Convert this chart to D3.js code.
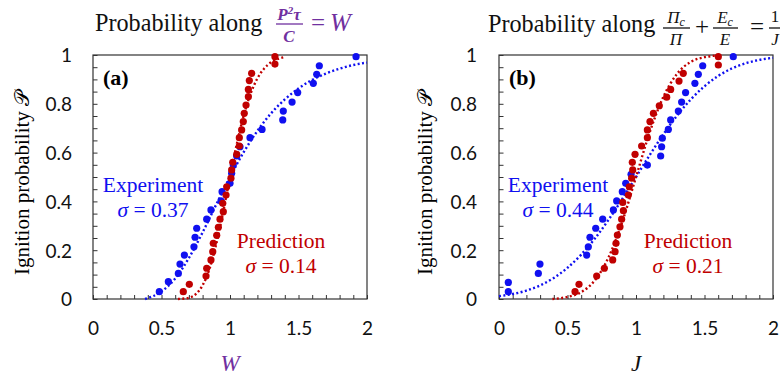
<!DOCTYPE html>
<html>
<head>
<meta charset="utf-8">
<script src="https://cdn.jsdelivr.net/npm/d3@7"></script>
<style>
  body { margin: 0; background: #fff; }
  svg { display: block; }
</style>
</head>
<body>
<svg id="chart" width="780" height="378"></svg>
<script>
// ---- data ----
const xTicks = [0, 0.5, 1, 1.5, 2];
const xTickLabels = ["0", "0.5", "1", "1.5", "2"];
const yTicks = [0, 0.2, 0.4, 0.6, 0.8, 1];
const yTickLabels = ["0", "0.2", "0.4", "0.6", "0.8", "1"];

// panel (a): experiment points
const expA_W = [0.484, 0.55, 0.623, 0.635, 0.667, 0.737, 0.745, 0.757, 0.83, 0.861, 0.934, 0.942, 1.0, 1.012, 1.024, 1.049, 1.073, 1.146, 1.234, 1.385, 1.389, 1.453, 1.494, 1.608, 1.633, 1.652, 1.92];
const expA_P = [0.030, 0.071, 0.105, 0.143, 0.180, 0.214, 0.253, 0.290, 0.327, 0.365, 0.402, 0.440, 0.474, 0.515, 0.549, 0.586, 0.624, 0.661, 0.695, 0.734, 0.770, 0.807, 0.846, 0.884, 0.921, 0.956, 0.993];
// panel (a): prediction points
const predA_W = [0.659, 0.703, 0.825, 0.83, 0.861, 0.874, 0.878, 0.903, 0.915, 0.927, 0.951, 0.947, 0.971, 0.976, 1.007, 1.012, 1.02, 1.049, 1.068, 1.068, 1.085, 1.097, 1.104, 1.117, 1.134, 1.134, 1.141, 1.158, 1.328, 1.328];
const predA_P = [0.030, 0.060, 0.094, 0.126, 0.160, 0.194, 0.228, 0.261, 0.294, 0.327, 0.358, 0.392, 0.426, 0.460, 0.495, 0.529, 0.560, 0.593, 0.627, 0.661, 0.693, 0.727, 0.761, 0.795, 0.829, 0.859, 0.895, 0.925, 0.963, 0.993];
// panel (a): dotted fit curves
const fitExpA_W = [0.38, 0.5, 0.6, 0.7, 0.8, 0.9, 1.0, 1.1, 1.2, 1.3, 1.4, 1.5, 1.6, 1.7, 1.8, 1.9, 2.0];
const fitExpA_P = [0.0, 0.031, 0.084, 0.168, 0.273, 0.388, 0.5, 0.602, 0.689, 0.761, 0.818, 0.863, 0.898, 0.924, 0.944, 0.959, 0.969];
const fitPredA_W = [0.62, 0.7, 0.75, 0.8, 0.85, 0.9, 0.95, 1.0, 1.05, 1.1, 1.15, 1.2, 1.25, 1.3, 1.35, 1.4];
const fitPredA_P = [0.0, 0.005, 0.020, 0.056, 0.123, 0.226, 0.357, 0.5, 0.636, 0.752, 0.841, 0.904, 0.945, 0.970, 0.984, 0.992];

// panel (b): experiment points
const expB_J = [0.068, 0.068, 0.287, 0.299, 0.64, 0.652, 0.664, 0.706, 0.757, 0.835, 0.859, 0.90, 0.925, 0.964, 1.083, 1.18, 1.187, 1.192, 1.236, 1.253, 1.309, 1.333, 1.362, 1.43, 1.455, 1.487, 1.71];
const expB_P = [0.030, 0.068, 0.105, 0.143, 0.180, 0.214, 0.253, 0.290, 0.327, 0.365, 0.402, 0.440, 0.474, 0.511, 0.549, 0.586, 0.624, 0.659, 0.695, 0.734, 0.770, 0.807, 0.846, 0.884, 0.921, 0.956, 0.993];
// panel (b): prediction points
const predB_J = [0.555, 0.584, 0.713, 0.769, 0.83, 0.847, 0.854, 0.864, 0.883, 0.895, 0.908, 0.903, 0.944, 0.951, 0.968, 0.976, 0.973, 0.993, 1.041, 1.083, 1.083, 1.102, 1.127, 1.17, 1.224, 1.253, 1.314, 1.345, 1.601, 1.601];
const predB_P = [0.030, 0.060, 0.094, 0.126, 0.160, 0.194, 0.228, 0.262, 0.296, 0.327, 0.362, 0.396, 0.426, 0.460, 0.495, 0.529, 0.560, 0.593, 0.627, 0.661, 0.693, 0.727, 0.761, 0.792, 0.827, 0.859, 0.893, 0.925, 0.959, 0.993];
// panel (b): dotted fit curves
const fitExpB_J = [0, 0.1, 0.2, 0.3, 0.4, 0.5, 0.6, 0.7, 0.8, 0.9, 1.0, 1.1, 1.2, 1.3, 1.4, 1.5, 1.6, 1.7, 1.8, 1.9, 2.0];
const fitExpB_P = [0.0115, 0.0204, 0.0345, 0.0558, 0.0863, 0.128, 0.182, 0.248, 0.325, 0.410, 0.5, 0.590, 0.675, 0.752, 0.818, 0.872, 0.914, 0.945, 0.966, 0.980, 0.9885];
const fitPredB_J = [0.39, 0.5, 0.6, 0.7, 0.8, 0.9, 1.0, 1.1, 1.2, 1.3, 1.4, 1.5, 1.6];
const fitPredB_P = [0.0, 0.0086, 0.028, 0.077, 0.171, 0.317, 0.5, 0.683, 0.829, 0.923, 0.972, 0.991, 0.998];

// ---- styles ----
const BLUE = "#1010f0";
const RED = "#c00000";
const PURPLE = "#7030a0";
const SERIF = "'Liberation Serif', 'Times New Roman', serif";
const SANS = "Lato, 'Open Sans', sans-serif";

const svg = d3.select("#chart");
const y = d3.scaleLinear().domain([0, 1]).range([299, 55]);

const zip = (xs, ys) => xs.map((v, i) => [v, ys[i]]);

function drawPanel(cfg) {
  const x = d3.scaleLinear().domain([0, 2]).range([cfg.left, cfg.left + 274]);
  const g = svg.append("g");

  // frame
  g.append("rect")
    .attr("x", x(0)).attr("y", y(1))
    .attr("width", x(2) - x(0)).attr("height", y(0) - y(1))
    .attr("fill", "none").attr("stroke", "#333").attr("stroke-width", 1.2);

  // minor inward ticks
  g.append("g")
    .attr("transform", `translate(0,${y(0)})`)
    .call(d3.axisBottom(x).tickValues(d3.range(0, 21).map(i => i / 10)).tickSize(-4).tickFormat(""))
    .call(a => a.select(".domain").remove())
    .selectAll("line").attr("stroke", "#333");
  g.append("g")
    .attr("transform", `translate(${x(0)},0)`)
    .call(d3.axisLeft(y).tickValues(d3.range(0, 21).map(i => i / 20)).tickSize(-4.5).tickFormat(""))
    .call(a => a.select(".domain").remove())
    .selectAll("line").attr("stroke", "#333");

  // tick labels
  const xl = g.append("g")
    .attr("transform", `translate(0,${y(0)})`)
    .call(d3.axisBottom(x).tickValues(xTicks).tickSize(0).tickFormat((d, i) => xTickLabels[i]));
  xl.select(".domain").remove();
  xl.selectAll("text").attr("y", 36).attr("dy", 0)
    .style("font-family", SANS).style("font-size", "19px").attr("fill", "#111");

  const yl = g.append("g")
    .attr("transform", `translate(${x(0)},0)`)
    .call(d3.axisLeft(y).tickValues(yTicks).tickSize(0).tickPadding(cfg.yPad).tickFormat((d, i) => yTickLabels[i]));
  yl.select(".domain").remove();
  yl.selectAll("text").attr("dy", "0.36em")
    .style("font-family", SANS).style("font-size", "19px").attr("fill", "#111");

  // y axis title
  g.append("text")
    .attr("transform", `translate(${cfg.yTitleX},183) rotate(-90)`)
    .attr("text-anchor", "middle")
    .style("font-family", SERIF).style("font-size", "21px")
    .text("Ignition probability 𝒫");

  // x axis title
  g.append("text")
    .attr("x", x(1)).attr("y", 371)
    .attr("text-anchor", "middle")
    .style("font-family", SERIF).style("font-size", "23px").style("font-style", "italic")
    .attr("fill", cfg.xTitleColor)
    .text(cfg.xTitle);

  // dotted fits
  const line = d3.line().x(d => x(d[0])).y(d => y(d[1])).curve(d3.curveMonotoneX);
  [[cfg.fitExp, BLUE], [cfg.fitPred, RED]].forEach(([pts, c]) => {
    g.append("path")
      .attr("d", line(pts))
      .attr("fill", "none").attr("stroke", c)
      .attr("stroke-width", 2.4).attr("stroke-dasharray", "2,2.4");
  });

  // points
  [[cfg.exp, BLUE], [cfg.pred, RED]].forEach(([pts, c]) => {
    g.append("g").selectAll("circle")
      .data(pts).join("circle")
      .attr("cx", d => x(d[0])).attr("cy", d => y(d[1]))
      .attr("r", 3.6).attr("fill", c);
  });

  // panel letter
  g.append("text")
    .attr("x", x(0) + 10).attr("y", 85)
    .style("font-family", SERIF).style("font-size", "22px").style("font-weight", "bold")
    .text(cfg.letter);

  // annotations
  const note = (cx, by, c) => g.append("text")
    .attr("x", cx).attr("y", by).attr("text-anchor", "middle")
    .style("font-family", SERIF).style("font-size", "21.5px").attr("fill", c);
  note(cfg.expLabelX, 192, BLUE).text("Experiment");
  const s1 = note(cfg.expLabelX, 217, BLUE);
  s1.append("tspan").style("font-style", "italic").text("σ");
  s1.append("tspan").text(" = " + cfg.expSigma);
  note(cfg.predLabelX, 248, RED).text("Prediction");
  const s2 = note(cfg.predLabelX, 273, RED);
  s2.append("tspan").style("font-style", "italic").text("σ");
  s2.append("tspan").text(" = " + cfg.predSigma);
}

drawPanel({
  left: 93, yPad: 21, yTitleX: 29, letter: "(a)",
  xTitle: "W", xTitleColor: PURPLE,
  exp: zip(expA_W, expA_P), pred: zip(predA_W, predA_P),
  fitExp: zip(fitExpA_W, fitExpA_P), fitPred: zip(fitPredA_W, fitPredA_P),
  expLabelX: 153, expSigma: "0.37",
  predLabelX: 281, predSigma: "0.14"
});

drawPanel({
  left: 499, yPad: 22, yTitleX: 432, letter: "(b)",
  xTitle: "J", xTitleColor: "#111",
  exp: zip(expB_J, expB_P), pred: zip(predB_J, predB_P),
  fitExp: zip(fitExpB_J, fitExpB_P), fitPred: zip(fitPredB_J, fitPredB_P),
  expLabelX: 558, expSigma: "0.44",
  predLabelX: 688, predSigma: "0.21"
});

// ---- titles with stacked fractions ----
function txt(x, yy, s, size, opts = {}) {
  return svg.append("text")
    .attr("x", x).attr("y", yy)
    .attr("text-anchor", opts.anchor || "start")
    .style("font-family", SERIF).style("font-size", size + "px")
    .style("font-style", opts.italic ? "italic" : "normal")
    .style("font-weight", opts.bold ? "bold" : "normal")
    .attr("fill", opts.color || "#111")
    .text(s);
}
function bar(x1, x2, yy, color) {
  svg.append("line").attr("x1", x1).attr("x2", x2).attr("y1", yy).attr("y2", yy)
    .attr("stroke", color).attr("stroke-width", 1.3);
}

// (a) Probability along P²τ/C = W
txt(95, 31, "Probability along", 24.2);
const numA = txt(289, 20, "", 17, { anchor: "middle", italic: true, bold: true, color: PURPLE });
numA.append("tspan").text("P");
numA.append("tspan").attr("dy", -6).style("font-size", "11px").text("2");
numA.append("tspan").attr("dy", 6).text("τ");
bar(276, 303, 24, PURPLE);
txt(289, 42, "C", 17, { anchor: "middle", italic: true, bold: true, color: PURPLE });
txt(318, 31, "=", 25, { anchor: "middle", color: PURPLE });
txt(330, 31, "W", 25, { italic: true, color: PURPLE });

// (b) Probability along Π_c/Π + E_c/E = 1/J
txt(488, 32, "Probability along", 24.2);
const numB1 = txt(676, 23, "", 17, { anchor: "middle", italic: true });
numB1.append("tspan").text("Π");
numB1.append("tspan").attr("dy", 3).style("font-size", "12px").text("c");
bar(663, 690, 28, "#111");
txt(676, 45, "Π", 17, { anchor: "middle", italic: true });
txt(702, 35, "+", 25, { anchor: "middle" });
const numB2 = txt(725, 23, "", 17, { anchor: "middle", italic: true });
numB2.append("tspan").text("E");
numB2.append("tspan").attr("dy", 3).style("font-size", "12px").text("c");
bar(713, 738, 28, "#111");
txt(725, 45, "E", 17, { anchor: "middle", italic: true });
txt(757, 35, "=", 25, { anchor: "middle" });
txt(775, 22, "1", 17, { anchor: "middle" });
bar(769, 782, 28, "#111");
txt(775, 45, "J", 17, { anchor: "middle", italic: true });
</script>
</body>
</html>
